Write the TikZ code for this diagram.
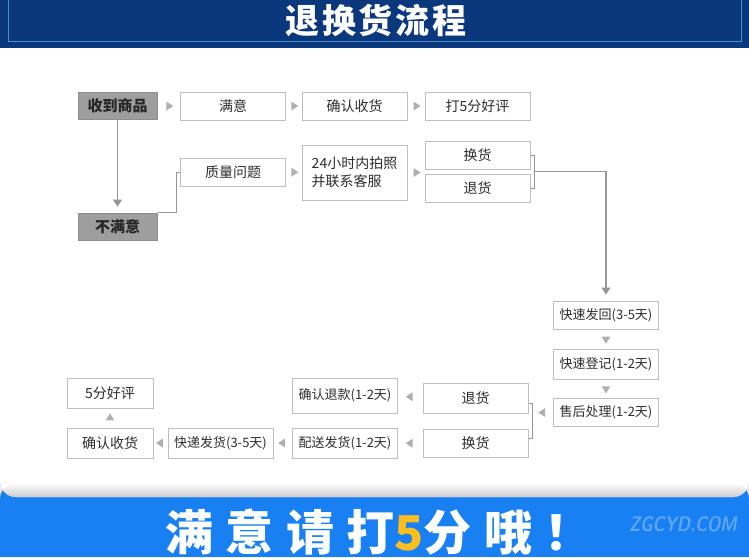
\documentclass[tikz,border=0pt]{standalone}
\usepackage{fontspec}
\newfontfamily\cjk{Noto Sans CJK SC}
\newfontfamily\slogan[LetterSpace=26]{Noto Sans CJK SC}
\newfontfamily\titlefont[LetterSpace=8]{Noto Sans CJK SC}
\usepackage{tikz}
\usetikzlibrary{shapes.geometric,arrows.meta,calc}
\definecolor{bannerblue}{RGB}{11,56,125}
\definecolor{frameblue}{RGB}{72,142,200}
\definecolor{bandblue}{RGB}{24,128,242}
\definecolor{keygray}{RGB}{158,158,158}
\definecolor{boxline}{RGB}{190,190,190}
\definecolor{boxtext}{RGB}{45,45,45}
\definecolor{markgray}{RGB}{175,175,175}
\definecolor{linegray}{RGB}{150,150,150}
\definecolor{sloganyellow}{RGB}{250,190,30}
\definecolor{siteblue}{RGB}{95,165,250}
\tikzset{
  stepnode/.style={rectangle,draw=boxline,fill=white,line width=1pt,
    minimum width=105pt,minimum height=28pt,inner sep=1pt,text=boxtext,
    font=\cjk\fontsize{14}{18}\selectfont},
  daynode/.style={stepnode,font=\cjk\fontsize{13}{15}\selectfont},
  keynode/.style={stepnode,fill=keygray,draw=keygray!90!black,
    minimum width=79pt,minimum height=27pt,text=black!85,
    font=\cjk\bfseries\fontsize{15}{17}\selectfont},
  marknode/.style={isosceles triangle,isosceles triangle stretches,
    fill=markgray,inner sep=0pt,minimum height=7pt,minimum width=9pt},
  flowedge/.style={line width=1.6pt,linegray,
    -{Triangle[width=9pt,length=7pt]},shorten >=6pt},
  linkedge/.style={line width=0.9pt,linegray}
}
\begin{document}
\begin{tikzpicture}[x=1pt,y=-1pt]
  \newcommand{\flowmark}[3]{%
    \path (#1) -- node[marknode,rotate=#3]{} (#2);}

  \useasboundingbox (0,0) rectangle (749,557);
  \clip (0,0) rectangle (749,557);
  \fill[bandblue] (0,470) rectangle (749,557);
  \fill[white,rounded corners=16pt] (0,20) rectangle (749,497);
  \shade[top color=white,bottom color=gray!40,rounded corners=16pt]
    (0,483) rectangle (749,497);
  \fill[bannerblue] (0,0) rectangle (749,47.5);
  \draw[frameblue,line width=1pt] (8,0) -- (8,41) -- (741,41) -- (741,0);
  \node[text=white,font=\titlefont\bfseries\fontsize{34}{36}\selectfont]
    (title) at (376,20) {退换货流程};
  \node[anchor=base west,inner sep=0pt,text=white,
    font=\slogan\bfseries\fontsize{48}{50}\selectfont]
    (slogan) at (165,550) {满意请打{\color{sloganyellow}5}分哦！};
  \node[text=siteblue,xscale=0.8,transform shape,
    font=\sffamily\bfseries\itshape\fontsize{21}{23}\selectfont]
    (site) at (683,524) {ZGCYD.COM};

  \node[keynode] (recv) at (117.5,106) {收到商品};
  \node[stepnode] (happy) at (233,106) {满意};
  \node[stepnode] (confirm) at (354.5,106) {确认收货};
  \node[stepnode] (praise) at (477.5,106) {打5分好评};
  \node[keynode] (unhappy) at (117.5,226.5) {不满意};
  \node[stepnode] (quality) at (233,172) {质量问题};
  \node[stepnode,minimum height=55pt,align=left] (photo) at (354.5,172.5)
    {24小时内拍照\\并联系客服};
  \node[stepnode] (swap) at (477.5,155) {换货};
  \node[stepnode] (refund) at (477.5,188.5) {退货};

  \node[daynode] (sendback) at (606,315) {快速发回(3-5天)};
  \node[daynode,minimum height=30pt] (register) at (606,364) {快速登记(1-2天)};
  \node[daynode] (service) at (606,412.5) {售后处理(1-2天)};
  \node[stepnode,minimum height=30pt] (refund2) at (475.5,398) {退货};
  \node[stepnode] (swap2) at (475.5,443.5) {换货};
  \node[daynode,minimum height=35pt] (payback) at (345,395.5) {确认退款(1-2天)};
  \node[daynode,minimum height=30pt] (deliver) at (345,443) {配送发货(1-2天)};
  \node[daynode,minimum height=30pt] (express) at (220.5,443) {快递发货(3-5天)};
  \node[stepnode,minimum width=86pt,minimum height=30pt] (received)
    at (110,443) {确认收货};
  \node[stepnode,minimum width=86pt,minimum height=30pt] (review)
    at (110,393) {5分好评};

  \draw[flowedge] (recv) -- (unhappy);
  \draw[linkedge] (unhappy.north east) -- ++(19,0) |- (quality.west);
  \draw[linkedge] (swap.east) -- ++(4,0) coordinate (uptop) |- (refund.east);
  \coordinate (upmid) at ($(uptop)!0.5!(uptop |- refund.east)$);
  \draw[flowedge,line width=1.1pt] (upmid) -| (sendback.north);
  \draw[linkedge] ([yshift=-5pt]refund2.east) -- ++(4,0) coordinate (lowtop)
    |- ([yshift=5pt]swap2.east);

  \flowmark{recv}{happy}{0}
  \flowmark{happy}{confirm}{0}
  \flowmark{confirm}{praise}{0}
  \flowmark{quality}{photo}{0}
  \flowmark{photo.east}{photo.east -| swap.west}{0}
  \flowmark{sendback}{register}{-90}
  \flowmark{register}{service}{-90}
  \flowmark{service.west}{service.west -| lowtop}{180}
  \flowmark{refund2}{payback}{180}
  \flowmark{swap2}{deliver}{180}
  \flowmark{deliver}{express}{180}
  \flowmark{express}{received}{180}
  \flowmark{received}{review}{90}
\end{tikzpicture}
\end{document}
